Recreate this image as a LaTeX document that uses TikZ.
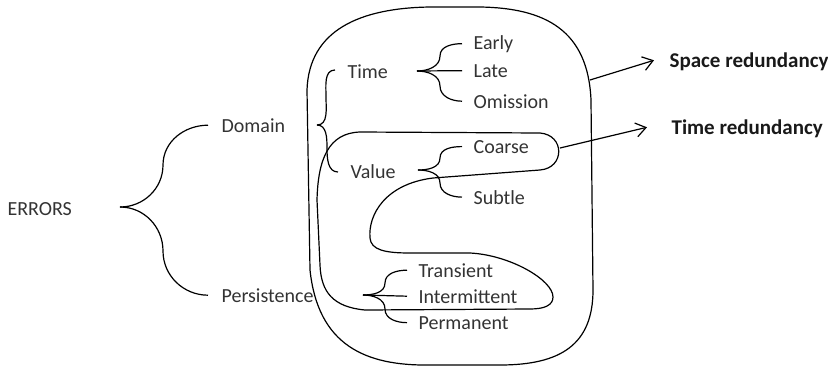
\documentclass[tikz,border=0pt]{standalone}
\usepackage{fontspec}
\setmainfont{Carlito}
\usetikzlibrary{arrows.meta,calc}
\definecolor{inkText}{HTML}{333333}

\begin{document}
\begin{tikzpicture}[x=1pt, y=1pt, line width=1.2pt,
      lbl/.style={font=\fontsize{20}{24}\selectfont, text=inkText, inner sep=0pt, anchor=base west},
      redund/.style={lbl, font=\fontsize{21}{25}\selectfont\bfseries, text=black!90},
      outarrow/.style={-{Straight Barb[length=10pt, width=14pt, line width=1.2pt]}}]
    \useasboundingbox (0,0) rectangle (828,-368);
    % ---- labels
    \node[lbl] (errors) at (7,-215) {ERRORS};
    \node[lbl] (domain) at (221,-132) {Domain};
    \node[lbl] (persist) at (221,-302) {Persistence};
    \node[lbl] (time) at (347,-78) {Time};
    \node[lbl] (value) at (350,-178) {Value};
    \node[lbl] (early) at (473,-49) {Early};
    \node[lbl] (late) at (473,-77) {Late};
    \node[lbl] (omission) at (473,-108) {Omission};
    \node[lbl] (coarse) at (473,-153) {Coarse};
    \node[lbl] (subtle) at (473,-204) {Subtle};
    \node[lbl] (transient) at (418,-277) {Transient};
    \node[lbl] (intermit) at (418,-303) {Intermittent};
    \node[lbl] (permanent) at (418,-329) {Permanent};
    \node[redund] (space) at (669,-67) {Space redundancy};
    \node[redund] (timered) at (671,-134) {Time redundancy};
    % ---- brace end points
    \coordinate (errTip) at (120,-207);
    \coordinate (domTip) at (317,-125);
    \coordinate (timeTip) at (417,-71);
    \coordinate (valTip) at (418,-170);
    \coordinate (perTip) at (363,-295);
    % ---- braces
    \draw ([xshift=-13pt]domain.west) to[out=180,in=90] (163,-165) to[out=270,in=0] (errTip);
    \draw ([xshift=-13pt]persist.west) to[out=180,in=270] (163,-251) to[out=90,in=0] (errTip);
    \draw (335,-70) to[out=180,in=90] (326,-97) to[out=270,in=0] (domTip);
    \draw (338,-172) to[out=180,in=270] (327,-148) to[out=90,in=0] (domTip);
    \draw ([xshift=-11pt]early.west) to[out=180,in=90] (440,-56) to[out=270,in=0] (timeTip);
    \draw ([xshift=-11pt]omission.west) to[out=180,in=270] (440,-86) to[out=90,in=0] (timeTip);
    \draw (timeTip) -- ([xshift=-11pt]late.west);
    \draw ([xshift=-11pt]coarse.west) to[out=180,in=90] (440,-158) to[out=270,in=0] (valTip);
    \draw ([xshift=-11pt]subtle.west) to[out=180,in=270] (440,-183) to[out=90,in=0] (valTip);
    \draw ([xshift=-11pt]transient.west) to[out=180,in=90] (385,-283) to[out=270,in=0] (perTip);
    \draw ([xshift=-11pt]permanent.west) to[out=180,in=270] (385,-309) to[out=90,in=0] (perTip);
    \draw (perTip) -- ([xshift=-11pt]intermit.west);
    % ---- outer region
    \draw (307,-90) .. controls (309,-30) and (360,-8) .. (430,-7)
      -- (480,-7) .. controls (545,-8) and (588,-30) .. (591,-100)
      -- (593,-290) .. controls (593,-345) and (560,-365) .. (500,-365)
      -- (430,-365) .. controls (365,-366) and (318,-345) .. (310,-270) -- cycle;
    \coordinate (outerR) at (590,-80);
    % ---- snake region
    \draw (360,-132) -- (540,-133) .. controls (565,-135) and (565,-168) .. (540,-170)
      -- (433,-178) .. controls (385,-184) and (368,-215) .. (370,-238)
      .. controls (371,-250) and (385,-253) .. (410,-253)
      -- (470,-253) .. controls (510,-255) and (553,-280) .. (553,-297)
      .. controls (553,-305) and (545,-309) .. (530,-309)
      -- (365,-310) .. controls (333,-307) and (321,-292) .. (320,-265)
      -- (317,-200) .. controls (318,-160) and (328,-133) .. cycle;
    \coordinate (loopR) at (560,-148);
    % ---- redundancy arrows
    \draw[outarrow] (outerR) -- ([xshift=-15pt, yshift=1pt]space.west);
    \draw[outarrow] (loopR) -- ([xshift=-24pt, yshift=1pt]timered.west);
  \end{tikzpicture}
\end{document}
